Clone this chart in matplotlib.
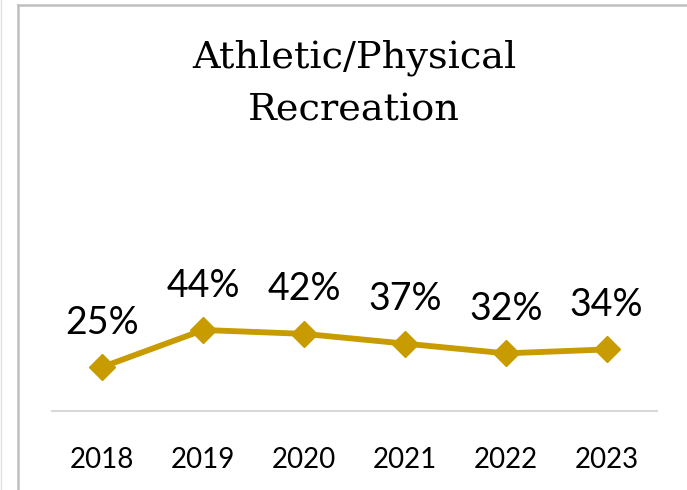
import matplotlib
matplotlib.use("Agg")
import matplotlib.pyplot as plt
from matplotlib.lines import Line2D

# Data
years = ["2018", "2019", "2020", "2021", "2022", "2023"]
pct = [25, 44, 42, 37, 32, 34]
labels = ["25%", "44%", "42%", "37%", "32%", "34%"]

W, H = 687, 490
fig = plt.figure(figsize=(W / 100, H / 100), dpi=100)

# Plot area in pixel terms
left, right, bottom, top = 52, 657, 411, 150
ax = fig.add_axes([left / W, 1 - bottom / H, (right - left) / W, (bottom - top) / H])

x = list(range(len(years)))
ax.plot(x, pct, color="#C89B00", lw=4.2, marker="D", ms=13, solid_joinstyle="round")
for xi, v, lab in zip(x, pct, labels):
    ax.annotate(lab, (xi, v), xytext=(0, 32), textcoords="offset points",
                ha="center", va="center", fontsize=27, family="Lato")

ax.set_xlim(-0.5, len(years) - 0.5)
ax.set_ylim(2.4, 136.4)
ax.set_xticks(x)
ax.set_xticklabels(years, fontsize=20, family="Lato")
ax.tick_params(axis="x", length=0, pad=26)
ax.set_yticks([])
for s in ["left", "right", "top"]:
    ax.spines[s].set_visible(False)
ax.spines["bottom"].set_color("#D9D9D9")
ax.spines["bottom"].set_linewidth(1.5)

# Title
fig.text(354 / W, 1 - 67 / H, "Athletic/Physical", ha="center", va="baseline",
         fontsize=27.5, family="DejaVu Serif")
fig.text(354 / W, 1 - 120 / H, "Recreation", ha="center", va="baseline",
         fontsize=27.5, family="DejaVu Serif")

# Frame lines
fig.add_artist(Line2D([18 / W, 18 / W], [0, 1 - 5 / H], color="#C0C0C0", lw=1.8,
                      transform=fig.transFigure))
fig.add_artist(Line2D([18 / W, 1], [1 - 5 / H, 1 - 5 / H], color="#C0C0C0", lw=1.8,
                      transform=fig.transFigure))
fig.add_artist(Line2D([0.5 / W, 0.5 / W], [0, 1], color="#E0E0E0", lw=1,
                      transform=fig.transFigure))

fig.savefig("out.png", dpi=100)
